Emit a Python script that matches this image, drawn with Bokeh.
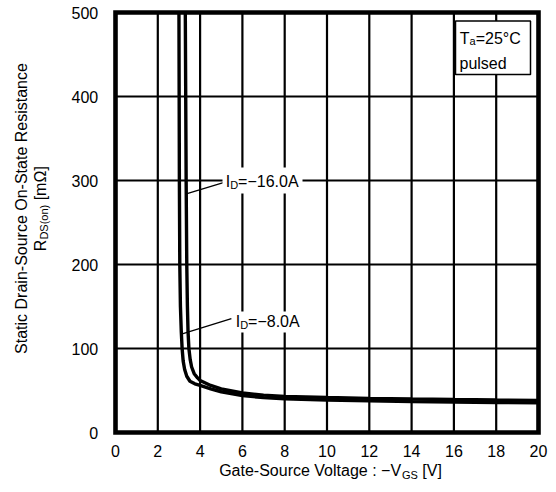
import numpy as np
from bokeh.plotting import figure
from bokeh.models import Range1d, Label, BoxAnnotation
from bokeh.embed import file_html
from bokeh.resources import INLINE

# ---------------- data ----------------
vgs_8a = [3.00, 3.01, 3.02, 3.04, 3.07, 3.11, 3.15, 3.20, 3.27, 3.37, 3.52, 3.75,
          4.0, 4.5, 5.0, 6.0, 7.0, 8.0, 10.0, 12.0, 14.0, 16.0, 18.0, 20.0]
rds_8a = [500, 400, 300, 200, 150, 120, 100, 85, 75, 67, 61, 58,
          56, 52, 48.5, 44, 41.5, 40, 38.6, 37.6, 36.8, 36.2, 35.7, 35.3]

vgs_16a = [3.30, 3.32, 3.34, 3.37, 3.40, 3.43, 3.47, 3.53, 3.60, 3.72, 3.88,
           4.0, 4.5, 5.0, 6.0, 7.0, 8.0, 10.0, 12.0, 14.0, 16.0, 18.0, 20.0]
rds_16a = [500, 400, 300, 200, 150, 120, 100, 87, 78, 70, 65,
           62, 56, 52, 47, 44.5, 43, 41.6, 40.6, 39.8, 39.2, 38.7, 38.3]

x_ticks = [0, 2, 4, 6, 8, 10, 12, 14, 16, 18, 20]
y_ticks = [0, 100, 200, 300, 400, 500]
x_tick_labels = [str(t) for t in x_ticks]
y_tick_labels = [str(t) for t in y_ticks]

series_names = ["=\u22128.0A", "=\u221216.0A"]
# where each leader line touches its curve (R, mOhm) and where it ends (V, R)
leader_r_on_curve = [117, 284]
leader_end_vgs = [5.48, 5.10]
leader_end_rds = [135.7, 297.6]

X_MIN, X_MAX = 0, 20
Y_MIN, Y_MAX = 0, 500

# ---------------- layout ----------------
WIDTH, HEIGHT = 556, 492
FL, FT, FR, FB = 115.0, 12.0, 538.0, 432.0   # plot-box edges in canvas pixels
KX = (X_MAX - X_MIN) / (FR - FL)
KY = (Y_MAX - Y_MIN) / (FB - FT)
BASE_FIX = 5.5   # renderer places the alphabetic baseline this much lower

FONT = "Liberation Sans"
MAIN = 16
SUB = 11

W = {' ': 278, '-': 333, '\u2212': 584, ':': 278, '=': 584, '.': 278, '(': 333, ')': 333,
     '[': 278, ']': 278, '\u00b0': 400, '\u03a9': 768,
     'A': 667, 'C': 722, 'D': 722, 'G': 778, 'I': 278, 'O': 778, 'R': 722, 'S': 667,
     'T': 611, 'V': 667,
     'a': 556, 'c': 500, 'd': 556, 'e': 556, 'g': 556, 'i': 222, 'l': 222, 'm': 833,
     'n': 556, 'o': 556, 'p': 556, 'r': 333, 's': 500, 't': 278, 'u': 556}
for ch in "0123456789":
    W[ch] = 556


def text_width(s, size):
    return sum(W.get(c, 556) for c in s) * size / 1000.0


def dx(px):
    return X_MIN + (px - FL) * KX


def dy(py):
    return Y_MIN + (FB - py) * KY


p = figure(width=WIDTH, height=HEIGHT,
           x_range=Range1d(dx(0), dx(WIDTH)), y_range=Range1d(dy(HEIGHT), dy(0)),
           output_backend="svg", toolbar_location=None,
           min_border=0, min_border_left=0, min_border_right=0,
           min_border_top=0, min_border_bottom=0)
p.axis.visible = False
p.grid.visible = False
p.background_fill_color = "white"
p.border_fill_color = "white"
p.outline_line_color = None

# grid lines at the tick positions
p.segment(x0=x_ticks, y0=[Y_MIN] * len(x_ticks), x1=x_ticks, y1=[Y_MAX] * len(x_ticks),
          line_color="black", line_width=2.2)
p.segment(x0=[X_MIN] * len(y_ticks), y0=y_ticks, x1=[X_MAX] * len(y_ticks), y1=y_ticks,
          line_color="black", line_width=2.2)

# curves
p.line(vgs_8a, rds_8a, line_width=3.4, line_color="black")
p.line(vgs_16a, rds_16a, line_width=3.4, line_color="black")

# leader lines
curves = [(vgs_8a, rds_8a), (vgs_16a, rds_16a)]
for (vv, rr), rc, ve, re_ in zip(curves, leader_r_on_curve, leader_end_vgs, leader_end_rds):
    vc = float(np.interp(rc, rr[::-1], vv[::-1]))
    p.line([vc, ve], [rc, re_], line_width=1.3, line_color="black")

# plot box
p.quad(left=[X_MIN], right=[X_MAX], bottom=[Y_MIN], top=[Y_MAX],
       fill_color=None, line_color="black", line_width=4.6, line_join="miter")


def label(txt, x, y, size=MAIN, xo=0.0, yo=0.0, align="left", angle=0.0):
    if angle == 0.0:
        yo += BASE_FIX
    else:
        xo -= BASE_FIX
    p.add_layout(Label(x=x, y=y, x_offset=xo, y_offset=yo, text=txt,
                       text_font=FONT, text_font_size=f"{size}px", text_color="black",
                       text_font_style="normal",
                       text_align=align, text_baseline="alphabetic", angle=angle))


def rich(parts, px, py, angle=0.0):
    off = 0.0
    for txt, size, shift in parts:
        stripped = txt.lstrip(" ")
        off += text_width(txt[:len(txt) - len(stripped)], size)
        if angle == 0.0:
            xo, yo = off, -shift
        else:
            xo, yo = shift, off
        label(stripped, dx(px), dy(py), size=size, xo=xo, yo=yo, angle=angle)
        off += text_width(stripped, size)
    return off


def white_box(l, r, t, b, line=False):
    p.add_layout(BoxAnnotation(left=dx(l), right=dx(r), top=dy(t), bottom=dy(b),
                               fill_color="white", fill_alpha=1.0,
                               line_color="black" if line else None,
                               line_width=1.5, line_alpha=1.0 if line else 0.0))


# tick labels, positioned through the data scale
for t, s in zip(x_ticks, x_tick_labels):
    label(s, t, Y_MIN, yo=-(456.0 - FB), align="center")
for t, s in zip(y_ticks, y_tick_labels):
    label(s, X_MIN, t, xo=-(FL - 97.7), yo=-5.6, align="right")

# curve labels with white backgrounds
white_box(232, 302.5, 311, 332)
white_box(222, 302, 167, 193)
rich([("I", MAIN, 0), ("D", SUB, 3), (series_names[0], MAIN, 0)], 235.2, 326.7)
rich([("I", MAIN, 0), ("D", SUB, 3), (series_names[1], MAIN, 0)], 225.2, 186.7)

# condition box
white_box(455, 530, 20.5, 74, line=True)
rich([("T", MAIN, 0), ("a", SUB, 3), ("=25\u00b0C", MAIN, 0)], 459.3, 43.3)
rich([("pulsed", MAIN, 0)], 459.0, 68.3)

# x axis title
xparts = [("Gate-Source Voltage : \u2212V", MAIN, 0), ("GS", SUB, 4), (" [V]", MAIN, 0)]
xtot = sum(text_width(t, s) for t, s, _ in xparts)
rich(xparts, 330.0 - xtot / 2.0, 475.5)

# y axis title (two rotated lines)
label("Static Drain-Source On-State Resistance", dx(26.7), dy(208.0),
      align="center", angle=np.pi / 2)
yparts = [("R", MAIN, 0), ("DS(on)", SUB, 3.5), (" [m\u03a9]", MAIN, 0)]
ytot = sum(text_width(t, s) for t, s, _ in yparts)
rich(yparts, 45.0, 208.0 + ytot / 2.0, angle=np.pi / 2)

open("out.html", "w").write(file_html(p, INLINE))
